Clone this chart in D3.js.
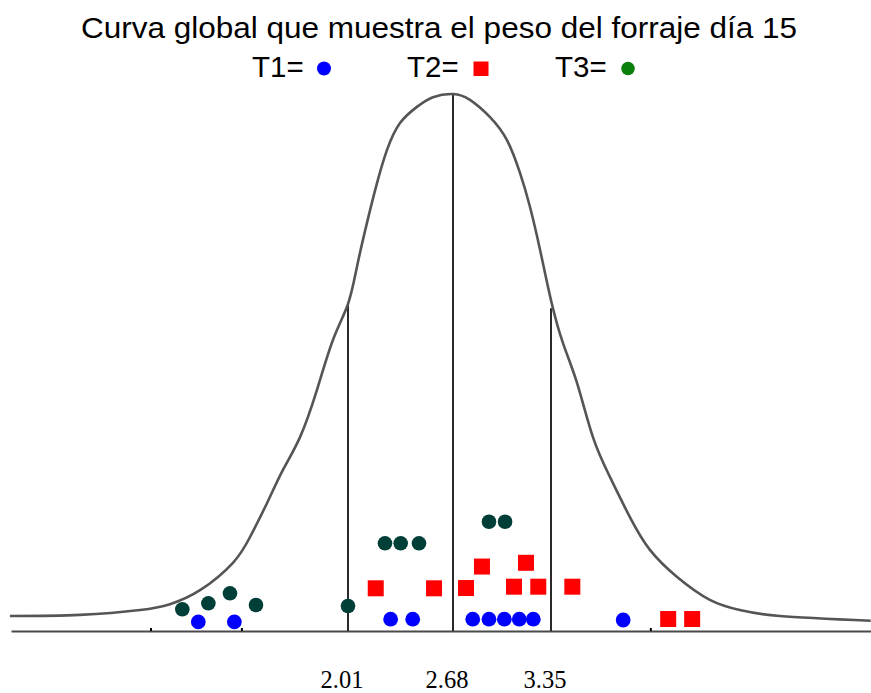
<!DOCTYPE html>
<html>
<head>
<meta charset="utf-8">
<script src="https://cdn.jsdelivr.net/npm/d3@7"></script>
<style>
  html, body { margin: 0; padding: 0; background: #fff; }
  svg { display: block; }
</style>
</head>
<body>
<svg id="chart" width="871" height="693"></svg>
<script>
// ---- Data ----
const titleText = "Curva global que muestra el peso del forraje día 15";
const seriesNames = ["T1=", "T2=", "T3="];

// Global curve (x: forage weight, y: relative height 0-100)
const curveX = [-0.147, 0.300, 0.683, 0.874, 1.066, 1.276, 1.385, 1.493, 1.595, 1.704, 1.812, 1.914, 2.010, 2.067, 2.131, 2.195, 2.259, 2.342, 2.450, 2.552, 2.680,
                2.796, 2.933, 3.049, 3.138, 3.206, 3.275, 3.350, 3.432, 3.528, 3.637, 3.753, 3.890, 4.027, 4.211, 4.437, 4.642, 4.916, 5.538];
const curveY = [2.8, 3.0, 3.9, 5.0, 7.6, 12.7, 17.5, 23.8, 30.0, 36.1, 44.9, 54.2, 60.9, 67.8, 76.0, 83.4, 89.6, 94.6, 97.6, 99.4, 100,
                98.9, 95.7, 91.4, 85.3, 79.0, 71.0, 61.6, 53.6, 46.2, 36.1, 28.7, 21.2, 15.1, 10.1, 5.8, 3.9, 2.8, 1.9];

// Reference lines (mean and mean ± 1 SD)
const guideValues = [2.01, 2.68, 3.35];
const guideHeights = [60.7, 100, 60.1];
const guideLabels = ["2.01", "2.68", "3.35"];
// Small axis ticks
const axisTicks = [0.75, 1.33, 4.03];

// T1 (blue circles)
const t1X = [1.055, 1.285, 2.282, 2.423, 2.815, 2.926, 3.031, 3.133, 3.229, 3.844];
const t1Y = [1.7, 1.7, 2.2, 2.2, 2.2, 2.2, 2.2, 2.2, 2.2, 2.05];
// T2 (red squares)
const t2X = [2.187, 2.559, 2.769, 2.878, 3.097, 3.179, 3.263, 3.496, 4.152, 4.316];
const t2Y = [7.95, 7.95, 8.0, 12.0, 8.25, 12.7, 8.25, 8.25, 2.23, 2.23];
// T3 (dark green circles)
const t3X = [0.953, 1.119, 1.257, 1.423, 2.010, 2.246, 2.346, 2.463, 2.926, 3.036];
const t3Y = [4.04, 5.16, 7.02, 4.84, 4.66, 16.33, 16.33, 16.33, 20.35, 20.35];

// ---- Drawing ----
const svg = d3.select("#chart");

const x = d3.scaleLinear()
  .domain([-0.14, 2.01, 2.68, 3.35, 5.54])
  .range([11, 348, 453, 551, 871]);
const y = d3.scaleLinear().domain([0, 100]).range([631, 94]);

// Title
svg.append("text")
  .attr("x", 439).attr("y", 38)
  .attr("text-anchor", "middle")
  .attr("font-family", "Liberation Sans, Arial, sans-serif")
  .attr("font-size", 30)
  .attr("textLength", 716)
  .attr("lengthAdjust", "spacingAndGlyphs")
  .attr("fill", "#000")
  .text(titleText);

// Legend
const legendX = [252, 407, 555];
const legendMarkerX = [324, 481, 628];
const legend = svg.append("g")
  .attr("font-family", "Liberation Sans, Arial, sans-serif")
  .attr("font-size", 29.5);
seriesNames.forEach((name, i) => {
  legend.append("text").attr("x", legendX[i]).attr("y", 77).attr("fill", "#000").text(name);
});
legend.append("circle").attr("cx", legendMarkerX[0]).attr("cy", 68.5).attr("r", 7).attr("fill", "#0000ff");
legend.append("rect").attr("x", legendMarkerX[1] - 7.5).attr("y", 61.5).attr("width", 15).attr("height", 14.5).attr("fill", "#ff0000");
legend.append("circle").attr("cx", legendMarkerX[2]).attr("cy", 68.5).attr("r", 6.8).attr("fill", "#0a800a");

// Axis
const axis = d3.axisBottom(x)
  .tickValues(axisTicks)
  .tickSizeInner(-3)
  .tickSizeOuter(0)
  .tickFormat("");
const axisG = svg.append("g").attr("transform", `translate(0,${y(0)})`).call(axis);
axisG.select(".domain").attr("stroke", "#4a4a4a").attr("stroke-width", 2.2);
axisG.selectAll(".tick line").attr("stroke", "#000").attr("stroke-width", 2);

// Guide lines
svg.append("g").selectAll("line")
  .data(guideValues)
  .join("line")
  .attr("x1", d => x(d)).attr("x2", d => x(d))
  .attr("y1", y(0)).attr("y2", (d, i) => y(guideHeights[i]))
  .attr("stroke", "#2a2a2a")
  .attr("stroke-width", 2);

// Curve
const pts = curveX.map((v, i) => [v, curveY[i]]);
const line = d3.line().x(d => x(d[0])).y(d => y(d[1])).curve(d3.curveNatural);
svg.append("path")
  .datum(pts)
  .attr("d", line)
  .attr("fill", "none")
  .attr("stroke", "#555")
  .attr("stroke-width", 2.6);

// Guide labels
svg.append("g").selectAll("text")
  .data(guideValues)
  .join("text")
  .attr("x", d => x(d) - 6)
  .attr("y", 688)
  .attr("text-anchor", "middle")
  .attr("font-family", "Liberation Serif, Times New Roman, serif")
  .attr("font-size", 24.5)
  .attr("fill", "#000")
  .text((d, i) => guideLabels[i]);

// Points
const gPts = svg.append("g");
gPts.selectAll("circle.t3")
  .data(t3X.map((v, i) => [v, t3Y[i]]))
  .join("circle").attr("class", "t3")
  .attr("cx", d => x(d[0])).attr("cy", d => y(d[1]))
  .attr("r", 7.3).attr("fill", "#003f38");
gPts.selectAll("rect.t2")
  .data(t2X.map((v, i) => [v, t2Y[i]]))
  .join("rect").attr("class", "t2")
  .attr("x", d => x(d[0]) - 8).attr("y", d => y(d[1]) - 8)
  .attr("width", 16).attr("height", 16)
  .attr("fill", "#ff0000");
gPts.selectAll("circle.t1")
  .data(t1X.map((v, i) => [v, t1Y[i]]))
  .join("circle").attr("class", "t1")
  .attr("cx", d => x(d[0])).attr("cy", d => y(d[1]))
  .attr("r", 7.4).attr("fill", "#0000ff");
</script>
</body>
</html>
